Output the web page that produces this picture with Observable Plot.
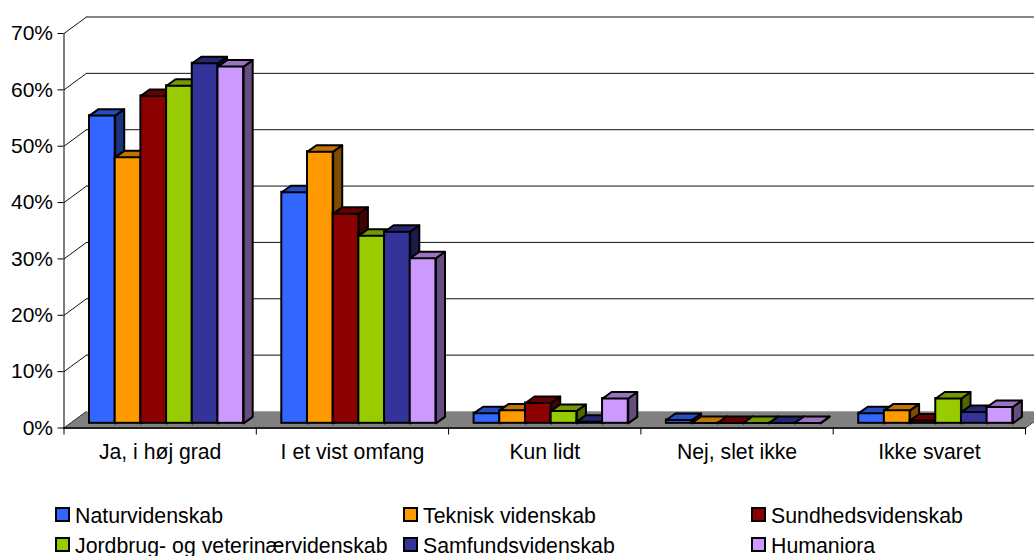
<!DOCTYPE html>
<html><head><meta charset="utf-8">
<script src="https://cdn.jsdelivr.net/npm/d3@7"></script>
<script src="https://cdn.jsdelivr.net/npm/@observablehq/plot@0.6"></script>
<style>
html,body{margin:0;padding:0;background:#fff;overflow:hidden;width:1034px;height:556px}
svg{display:block}
#legend{position:relative;height:60px;font:21.3px "Liberation Sans",Arial,sans-serif;color:#000}
#legend .k{position:absolute;white-space:nowrap;line-height:16px}
#legend i{position:absolute;left:-20px;top:-1px;width:11px;height:11px;border:2px solid #000;display:block}
</style></head><body>
<div id="chart"></div><div id="legend"></div>
<script>
const categories = ["Ja, i høj grad","I et vist omfang","Kun lidt","Nej, slet ikke","Ikke svaret"];
const seriesNames = ["Naturvidenskab","Teknisk videnskab","Sundhedsvidenskab","Jordbrug- og veterinærvidenskab","Samfundsvidenskab","Humaniora"];
const colors = ["#3366FF","#FF9900","#8B0000","#99CC00","#333399","#CC99FF"];
const naturvidenskab = [0.546,0.410,0.018,0.006,0.018];
const teknisk = [0.472,0.482,0.023,0.0005,0.023];
const sundhed = [0.581,0.372,0.036,0.0005,0.005];
const jordbrug = [0.599,0.333,0.022,0.0005,0.044];
const samfund = [0.639,0.340,0.003,0.0005,0.020];
const humaniora = [0.633,0.293,0.044,0.0005,0.029];
const values = [naturvidenskab,teknisk,sundhed,jordbrug,samfund,humaniora];
const yTicks = [0,0.1,0.2,0.3,0.4,0.5,0.6,0.7];

// 3D projection, in data units
const wallX=0.117, wallY=0.0293, barDX=0.047, barDY=0.0115, baseX=0.0338, baseY=0.0083, gap=0.0988, barW=0.1336;
const shade=(c,k)=>{const r=d3.rgb(c);return d3.rgb(r.r*k,r.g*k,r.b*k).formatHex();};
const poly=(pts,o)=>Plot.line([...pts,pts[0]],{x:"0",y:"1",...o});

const marks=[];
// walls
for(const t of yTicks){
  marks.push(Plot.link([t],{x1:0,y1:d=>d,x2:wallX,y2:d=>d+wallY,stroke:"#111",strokeWidth:1}));
  if(t>0) marks.push(Plot.ruleY([t+wallY],{x1:wallX,x2:5.2,stroke:"#111",strokeWidth:1}));
}
// floor
marks.push(poly([[0,0],[5,0],[5+wallX,wallY],[wallX,wallY]],{fill:"#808080",stroke:"#444",strokeWidth:1}));
marks.push(Plot.ruleY([wallY],{x1:wallX,x2:5.2,stroke:"#aaa",strokeWidth:1}));
marks.push(poly([[0,0],[5,0]],{stroke:"#222",strokeWidth:2}));
marks.push(Plot.ruleX([0],{y1:0,y2:0.7,stroke:"#000",strokeWidth:1}));
// bars
categories.forEach((c,g)=>{
  values.forEach((vals,s)=>{
    const v=vals[g], col=colors[s];
    const x0=g+baseX+gap+s*barW, x1=x0+barW, yb=baseY, yt=baseY+v;
    marks.push(Plot.rect([v],{x1:x0,x2:x1,y1:yb,y2:yt,fill:col,stroke:"#000",strokeWidth:2}));
    marks.push(poly([[x1,yb],[x1+barDX,yb+barDY],[x1+barDX,yt+barDY],[x1,yt]],{fill:shade(col,0.5),stroke:"#000",strokeWidth:2}));
    marks.push(poly([[x0,yt],[x1,yt],[x1+barDX,yt+barDY],[x0+barDX,yt+barDY]],{fill:shade(col,0.75),stroke:"#000",strokeWidth:2}));
  });
});
// axes
marks.push(Plot.axisY(yTicks,{tickFormat:d3.format(".0%"),tickSize:6,tickPadding:5,fontSize:21,label:null,stroke:"#000",color:"#000"}));
marks.push(Plot.axisX(d3.range(0,6),{tickSize:7,tickFormat:()=>"",label:null}));
marks.push(Plot.axisX(categories.map((_,i)=>i+0.5),{tickSize:0,tickPadding:16,fontSize:21.2,label:null,tickFormat:d=>categories[Math.floor(d)]}));

const chart=Plot.plot({
  width:1034,height:496,marginLeft:63.5,marginRight:9,marginTop:33,marginBottom:68.5,
  x:{domain:[0,5],axis:null},
  y:{domain:[0,0.7],axis:null},
  style:{fontFamily:'"Liberation Sans",Arial,sans-serif',background:"#fff",color:"#000"},
  marks
});
document.getElementById("chart").appendChild(chart);

const legendCols=[75,423,771], legendRows=[12,42];
const leg=document.getElementById("legend");
seriesNames.forEach((n,i)=>{
  const d=document.createElement("div");d.className="k";
  d.style.left=legendCols[i%3]+"px";d.style.top=legendRows[Math.floor(i/3)]+"px";
  const sw=document.createElement("i");sw.style.background=colors[i];d.appendChild(sw);
  d.appendChild(document.createTextNode(n));leg.appendChild(d);
});
</script></body></html>
